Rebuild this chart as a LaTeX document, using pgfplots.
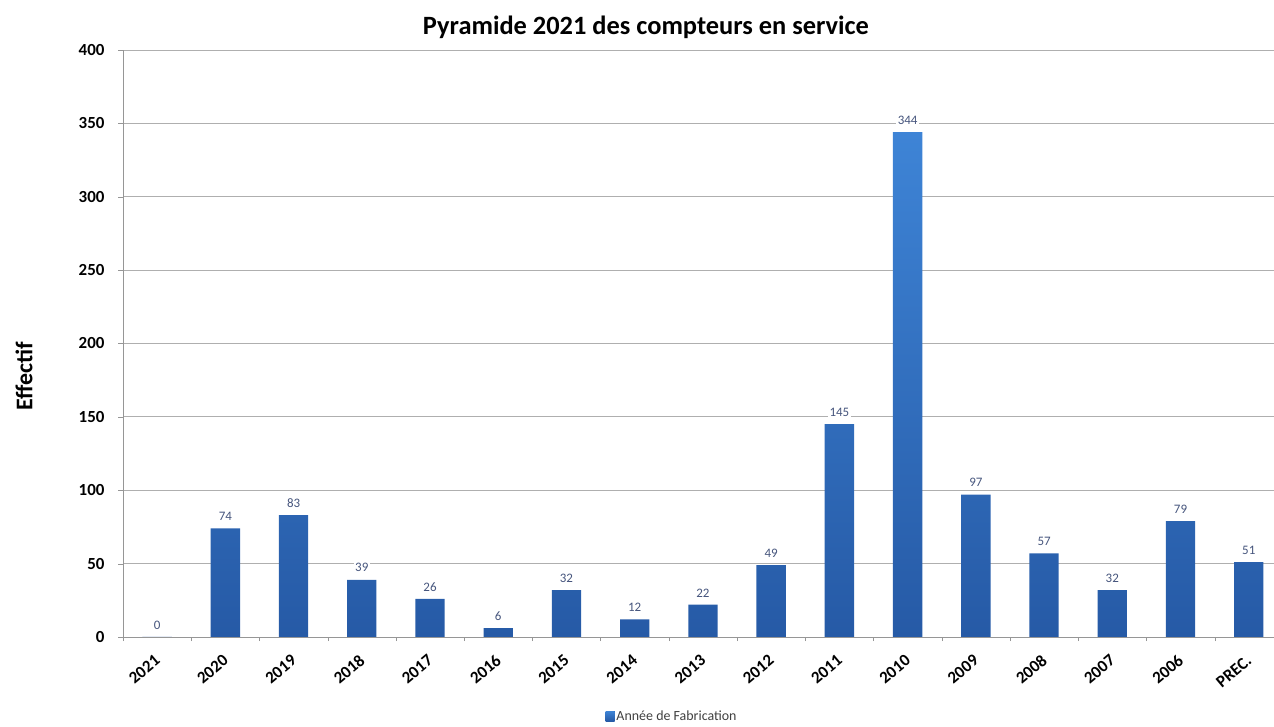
\documentclass[border=0pt]{standalone}
\usepackage{pgfplots}
\pgfplotsset{compat=1.18}
\usepackage{pgfplotstable}
\usepackage{fontspec}
\setmainfont{Carlito}

\definecolor{barTop}{RGB}{62,132,214}
\definecolor{barBot}{RGB}{38,90,166}
\definecolor{lblcol}{RGB}{70,85,125}
\definecolor{gridcol}{RGB}{175,175,175}
\definecolor{axcol}{RGB}{150,150,150}

% effectif par annee de fabrication
\pgfplotstableread{
x lab val
0 2021 0
1 2020 74
2 2019 83
3 2018 39
4 2017 26
5 2016 6
6 2015 32
7 2014 12
8 2013 22
9 2012 49
10 2011 145
11 2010 344
12 2009 97
13 2008 57
14 2007 32
15 2006 79
16 PREC. 51
}\data

\begin{document}
\begin{tikzpicture}
\begin{axis}[
    name=ax,
    at={(123bp,90bp)}, anchor=south west,
    scale only axis,
    width=1151bp, height=587bp,
    xmin=-0.5, xmax=16.37,
    ymin=0, ymax=400,
    ytick={0,50,...,400},
    xtick={0,...,16},
    minor xtick={-0.5,0.5,...,15.5},
    xticklabels from table={\data}{lab},
    /pgf/number format/assume math mode=true,
    axis lines=left,
    axis line style={-, draw=axcol},
    ymajorgrids,
    grid style={gridcol, line width=0.8bp},
    tick align=outside,
    tick style={axcol},
    x tick style={draw=none},
    minor x tick style={draw=axcol},
    major tick length=5bp,
    minor tick length=4bp,
    yticklabel style={font=\bfseries\fontsize{17}{19}\selectfont, xshift=-10bp},
    xticklabel style={font=\bfseries\fontsize{17}{19}\selectfont, xshift=3bp, yshift=-14bp, rotate=40, anchor=east},
    nodes near coords,
    nodes near coords style={font=\fontsize{13}{15}\selectfont, text=lblcol, fill=white, inner sep=1.5bp, yshift=6bp},
    legend style={at={(0.477,-0.1346)}, anchor=center, draw=none, font=\fontsize{14}{16}\selectfont, text=black!75},
    legend image code/.code={\fill[barBot] (0bp,-5bp) rectangle (9bp,5bp);},
]
\addplot[ybar, bar width=0.43, draw=none, top color=barTop, bottom color=barBot] table[x=x, y=val] {\data};
\addlegendentry{Année de Fabrication}
\end{axis}
\node[font=\bfseries\fontsize{26.5}{30}\selectfont] at (646bp,700bp) {Pyramide 2021 des compteurs en service};
\node[rotate=90, font=\bfseries\fontsize{24}{27}\selectfont] at (24bp,351bp) {Effectif};
\pgfresetboundingbox
\path[use as bounding box] (0,0) rectangle (1274bp,727bp);
\end{tikzpicture}
\end{document}
